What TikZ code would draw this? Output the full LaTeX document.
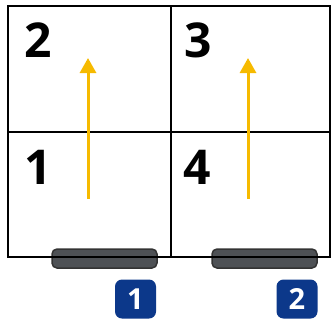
\documentclass[tikz,border=0pt]{standalone}
\usepackage{fontspec}
\setmainfont{Open Sans}
\usetikzlibrary{arrows.meta}
\definecolor{arrowyellow}{RGB}{246,186,0}
\definecolor{badgeblue}{RGB}{12,56,138}
\definecolor{bargray}{RGB}{78,81,85}
\begin{document}
\begin{tikzpicture}[x=1pt,y=-1pt,
    cellnum/.style={anchor=base west,inner sep=0pt,font=\fontsize{48}{48}\selectfont\bfseries},
    badge/.style={fill=badgeblue,text=white,rounded corners=7pt,minimum width=41pt,minimum height=39pt,inner sep=0pt,font=\fontsize{29}{29}\selectfont\bfseries},
    rail/.style={fill=bargray,draw=black!80,line width=1.5pt,rounded corners=5pt},
    move/.style={arrowyellow,line width=3pt,-{Triangle[width=16pt,length=15pt]}}]
            \useasboundingbox (0,0) rectangle (331,325) ;
            \draw[rail] (52,249) rectangle (157,268) (212,249) rectangle (317,268) ;
            \draw[line width=2pt] (8,6) rectangle (330,257) (171,6)--(171,257) (8,132)--(330,132) ;
            \node[cellnum] (n2) at (24,57) {2} ;
            \node[cellnum] (n1) at (24,184) {1} ;
            \node[cellnum] (n3) at (184,57) {3} ;
            \node[cellnum] (n4) at (183,184) {4} ;
            \coordinate (tailL) at (88,199) ; \coordinate (headL) at (88,58) ;
            \coordinate (tailR) at (248,199) ; \coordinate (headR) at (248,58) ;
            \draw[move] (tailL)--(headL) ;
            \draw[move] (tailR)--(headR) ;
            \node[badge] (b1) at (135.5,299) {1} ;
            \node[badge] (b2) at (297,299) {2} ;
        \end{tikzpicture}
\end{document}
